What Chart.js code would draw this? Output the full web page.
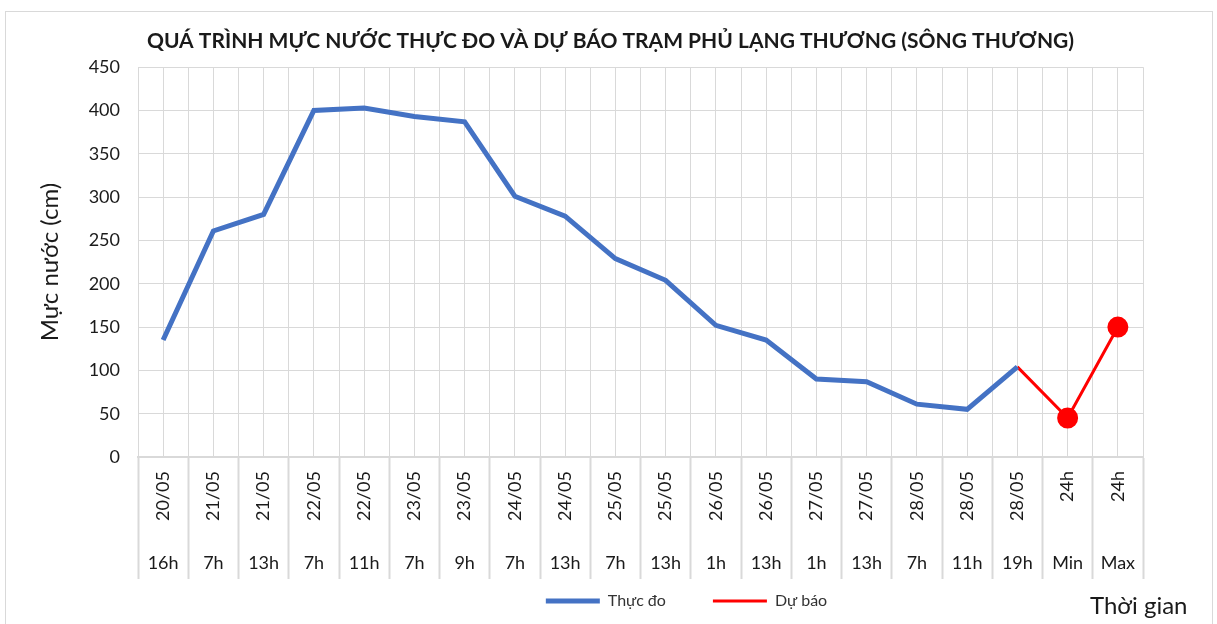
<!DOCTYPE html>
<html>
<head>
<meta charset="utf-8">
<script src="https://cdn.jsdelivr.net/npm/chart.js@4.4.1/dist/chart.umd.min.js"></script>
<style>
  html, body { margin: 0; padding: 0; background: #fff; }
  #wrap { position: relative; width: 1217px; height: 624px; }
  #frame { position: absolute; left: 5px; top: 11px; width: 1206px; height: 620px; border: 1px solid #d9d9d9; pointer-events: none; }
</style>
</head>
<body>
<div id="wrap">
  <canvas id="mucNuoc" width="1217" height="624"></canvas>
  <div id="frame"></div>
</div>
<script>
// ngay do (hang tren, chu xoay doc)
const dateLabels = ['20/05','21/05','21/05','22/05','22/05','23/05','23/05','24/05','24/05','25/05',
                    '25/05','26/05','26/05','27/05','27/05','28/05','28/05','28/05','24h','24h'];
// gio do (hang duoi)
const hourLabels = ['16h','7h','13h','7h','11h','7h','9h','7h','13h','7h',
                    '13h','1h','13h','1h','13h','7h','11h','19h','Min','Max'];

// muc nuoc thuc do (cm)
const thucDo = [135,261,280,400,403,393,387,301,278,229,204,152,135,90,87,61,55,104,null,null];
// muc nuoc du bao (cm)
const duBao = [null,null,null,null,null,null,null,null,null,null,null,null,null,null,null,null,null,104,45,150];

const yTicks = { min: 0, max: 450, step: 50 };

const gridColor = '#d9d9d9';
const textColor = '#1a1a1a';
const fontFam = 'Lato, "Open Sans", sans-serif';

// chu "Thoi gian" o goc duoi ben phai
const thoiGianLabel = {
  id: 'thoiGianLabel',
  afterDraw(chart) {
    const ctx = chart.ctx;
    ctx.save();
    ctx.font = '24px ' + fontFam;
    ctx.fillStyle = textColor;
    ctx.textAlign = 'left';
    ctx.textBaseline = 'alphabetic';
    ctx.fillText('Thời gian', 1090, 614);
    ctx.restore();
  }
};

// day chu giai sang phai va xuong mot chut nhu trong ban goc
const legendShift = {
  id: 'legendShift',
  afterLayout(chart) {
    chart.legend.left += 46;
    chart.legend.right += 46;
    chart.legend.top += 3;
    chart.legend.bottom += 3;
  }
};

const ctx = document.getElementById('mucNuoc');

const chart = new Chart(ctx, {
  type: 'line',
  data: {
    labels: dateLabels,
    datasets: [
      {
        label: 'Thực đo',
        data: thucDo,
        borderColor: '#4472c4',
        backgroundColor: '#4472c4',
        borderWidth: 5,
        pointRadius: 0,
        tension: 0
      },
      {
        label: 'Dự báo',
        data: duBao,
        borderColor: '#ff0000',
        backgroundColor: '#ff0000',
        borderWidth: 3,
        pointRadius: [0,0,0,0,0,0,0,0,0,0,0,0,0,0,0,0,0,0,9,9],
        pointHoverRadius: 9,
        tension: 0
      }
    ]
  },
  plugins: [thoiGianLabel, legendShift],
  options: {
    responsive: false,
    animation: false,
    layout: { padding: { left: 30, right: 26, top: 0, bottom: 8 } },
    plugins: {
      title: {
        display: true,
        text: 'QUÁ TRÌNH MỰC NƯỚC THỰC ĐO VÀ DỰ BÁO TRẠM PHỦ LẠNG THƯƠNG (SÔNG THƯƠNG)',
        color: textColor,
        font: { family: fontFam, size: 21, weight: 'bold' },
        padding: { top: 29, bottom: 13 }
      },
      legend: {
        position: 'bottom',
        fullSize: false,
        labels: {
          color: '#333',
          font: { family: fontFam, size: 16 },
          usePointStyle: true,
          pointStyleWidth: 54,
          padding: 11,
          generateLabels(c) {
            const items = Chart.defaults.plugins.legend.labels.generateLabels(c);
            items.forEach(it => { it.pointStyle = 'line'; });
            // khoang cach rong giua hai muc chu giai
            items[0].text += '\u2003\u2003\u2003';
            return items;
          }
        }
      },
      tooltip: { enabled: false }
    },
    scales: {
      xg: {
        type: 'category',
        position: 'top',
        offset: true,
        labels: dateLabels,
        ticks: { display: false },
        border: { display: false },
        grid: { color: gridColor, offset: false, drawTicks: false },
        afterFit(s) { s.height = 0; }
      },
      x: {
        type: 'category',
        position: 'bottom',
        weight: 0,
        offset: true,
        labels: dateLabels,
        border: { display: true, color: gridColor, width: 2 },
        grid: { color: gridColor, offset: true, drawTicks: true, tickLength: 92, tickWidth: 2 },
        ticks: {
          color: textColor,
          font: { family: fontFam, size: 18 },
          minRotation: 90,
          maxRotation: 90,
          autoSkip: false,
          padding: -78
        },
        afterFit(s) { s.height = 92; }
      },
      x2: {
        type: 'category',
        position: 'bottom',
        weight: 1,
        offset: true,
        labels: hourLabels,
        border: { display: false },
        grid: { color: gridColor, offset: true, drawOnChartArea: false, drawTicks: true, tickLength: 30, tickWidth: 2 },
        ticks: {
          color: textColor,
          font: { family: fontFam, size: 18 },
          maxRotation: 0,
          autoSkip: false,
          padding: -27
        },
        afterFit(s) { s.height = 30; }
      },
      y: {
        min: yTicks.min,
        max: yTicks.max,
        border: { display: false },
        grid: { color: gridColor, drawTicks: false },
        ticks: {
          stepSize: yTicks.step,
          color: textColor,
          font: { family: fontFam, size: 18 },
          padding: 18
        },
        title: {
          display: true,
          text: 'Mực nước (cm)',
          color: textColor,
          font: { family: fontFam, size: 24 },
          padding: { top: 6, bottom: 0 }
        },
        afterFit(s) { s.width = 108; }
      },
      // khoang trong ben phai de tieu de can giua nhu ban goc
      yr: {
        type: 'linear',
        position: 'right',
        display: true,
        ticks: { display: false },
        border: { display: false },
        grid: { drawOnChartArea: false, drawTicks: false },
        afterFit(s) { s.width = 48; }
      }
    }
  }
});
</script>
</body>
</html>
